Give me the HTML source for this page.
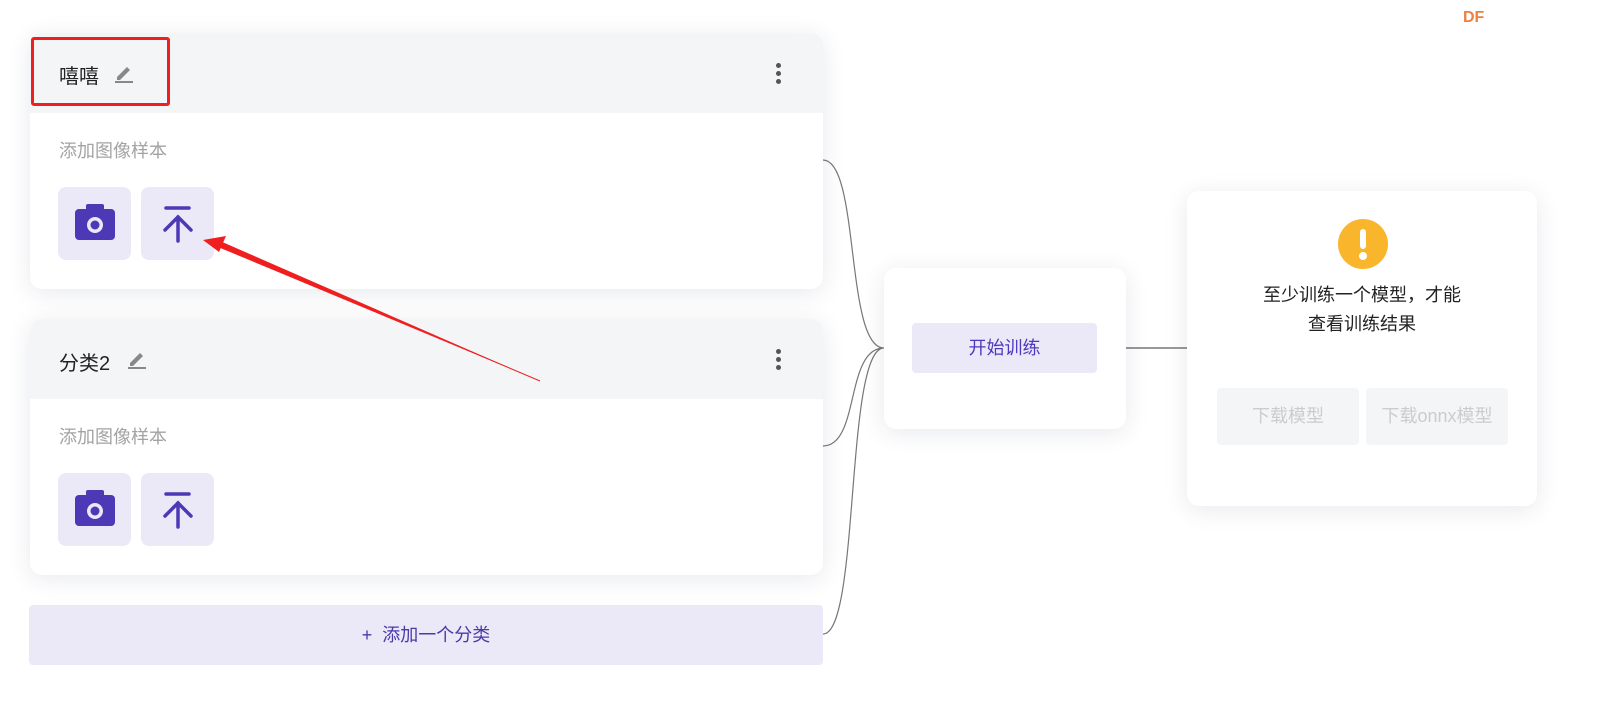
<!DOCTYPE html>
<html><head><meta charset="utf-8"><style>
body{margin:0;width:1615px;height:717px;background:#fff;position:relative;overflow:hidden;font-family:"Liberation Sans","Noto Sans CJK SC",sans-serif}
.card{position:absolute;background:#fff;border-radius:12px;box-shadow:0 4px 24px rgba(30,40,80,0.10);overflow:hidden}
.hd{position:absolute;left:0;right:0;top:0;height:80px;background:#f4f5f7}
.t{position:absolute;font-size:20px;color:#222}
.lbl{position:absolute;left:29px;font-size:18px;color:#a3a3a3}
.btn{position:absolute;width:73px;height:73px;background:#ebe8f7;border-radius:8px}
.dots{position:absolute;left:746px;top:30px;width:5px}
.dots i{display:block;width:5px;height:5px;border-radius:50%;background:#555;margin-bottom:3px}
</style></head><body>
<div style="position:absolute;left:1463px;top:9px;font-weight:bold;color:#f08040;font-size:16px">DF</div>
<svg style="position:absolute;left:0;top:0" width="1615" height="717">
<path d="M823 160 C860 160,845 348,884 348 M823 446 C860 446,845 348,884 348 M823 634 C860 634,845 348,884 348" fill="none" stroke="#777" stroke-width="1.2"/>
<line x1="1126" y1="348" x2="1187" y2="348" stroke="#777" stroke-width="1.5"/>
</svg>
<div class="card" style="left:30px;top:33px;width:793px;height:256px">
<div class="hd"></div>
<div class="t" style="left:29px;top:27px">嘻嘻</div>
<svg style="position:absolute;left:84px;top:30px" width="20" height="20"><path d="M3 14 L13 4 L16 7 L6 17 L3 17Z" fill="#888"/><rect x="1" y="18" width="18" height="2" fill="#888"/></svg>
<div class="dots"><i></i><i></i><i></i></div>
<div class="lbl" style="top:104px">添加图像样本</div>
<div class="btn" style="left:28px;top:154px"><svg width="73" height="73"><rect x="17" y="22" width="40" height="31" rx="4" fill="#4d38b5"/><rect x="28" y="17" width="18" height="8" rx="2" fill="#4d38b5"/><circle cx="37" cy="38" r="8" fill="#ebe8f7"/><circle cx="37" cy="38" r="4.5" fill="#4d38b5"/></svg></div>
<div class="btn" style="left:111px;top:154px"><svg width="73" height="73"><g stroke="#4d38b5" stroke-width="3.5" stroke-linecap="round" fill="none"><line x1="25" y1="21" x2="48" y2="21"/><line x1="37" y1="30" x2="37" y2="54"/><path d="M24 43 L37 30 L50 43"/></g></svg></div>
</div>
<div style="position:absolute;left:31px;top:37px;width:133px;height:63px;border:3px solid #f01f1f;border-radius:3px"></div>
<div class="card" style="left:30px;top:319px;width:793px;height:256px">
<div class="hd"></div>
<div class="t" style="left:29px;top:28px">分类2</div>
<svg style="position:absolute;left:97px;top:30px" width="20" height="20"><path d="M3 14 L13 4 L16 7 L6 17 L3 17Z" fill="#888"/><rect x="1" y="18" width="18" height="2" fill="#888"/></svg>
<div class="dots"><i></i><i></i><i></i></div>
<div class="lbl" style="top:104px">添加图像样本</div>
<div class="btn" style="left:28px;top:154px"><svg width="73" height="73"><rect x="17" y="22" width="40" height="31" rx="4" fill="#4d38b5"/><rect x="28" y="17" width="18" height="8" rx="2" fill="#4d38b5"/><circle cx="37" cy="38" r="8" fill="#ebe8f7"/><circle cx="37" cy="38" r="4.5" fill="#4d38b5"/></svg></div>
<div class="btn" style="left:111px;top:154px"><svg width="73" height="73"><g stroke="#4d38b5" stroke-width="3.5" stroke-linecap="round" fill="none"><line x1="25" y1="21" x2="48" y2="21"/><line x1="37" y1="30" x2="37" y2="54"/><path d="M24 43 L37 30 L50 43"/></g></svg></div>
</div>
<div style="position:absolute;left:29px;top:605px;width:794px;height:60px;background:#ebe8f7;border-radius:4px;text-align:center;line-height:60px;font-size:18px;color:#4a3aa8">+&nbsp; 添加一个分类</div>
<svg style="position:absolute;left:0;top:0" width="1615" height="717">
<polygon points="540,381 218,247 220,241" fill="#f01f1f"/>
<polygon points="203,240 226,236 219,252" fill="#f01f1f"/>
<path d="M540 381 L210 241" stroke="#f01f1f" stroke-width="1"/>
</svg>
<div class="card" style="left:884px;top:268px;width:242px;height:161px">
<div style="position:absolute;left:28px;top:55px;width:185px;height:50px;background:#ebe8f7;border-radius:4px;text-align:center;line-height:50px;font-size:18px;color:#4d38c0">开始训练</div>
</div>
<div class="card" style="left:1187px;top:191px;width:350px;height:315px">
<div style="position:absolute;left:151px;top:28px;width:50px;height:50px;border-radius:50%;background:#f9b52b"></div>
<div style="position:absolute;left:173px;top:38px;width:6px;height:20px;border-radius:3px;background:#fff"></div>
<div style="position:absolute;left:172px;top:61px;width:8px;height:8px;border-radius:50%;background:#fff"></div>
<div style="position:absolute;left:0;right:0;top:90px;text-align:center;font-size:18px;line-height:29px;color:#222">至少训练一个模型，才能<br>查看训练结果</div>
<div style="position:absolute;left:30px;top:197px;width:142px;height:57px;background:#f4f5f7;border-radius:4px;text-align:center;line-height:57px;font-size:18px;color:#ccc">下载模型</div>
<div style="position:absolute;left:179px;top:197px;width:142px;height:57px;background:#f4f5f7;border-radius:4px;text-align:center;line-height:57px;font-size:18px;color:#ccc;white-space:nowrap;overflow:hidden">下载onnx模型</div>
</div>
</body></html>
